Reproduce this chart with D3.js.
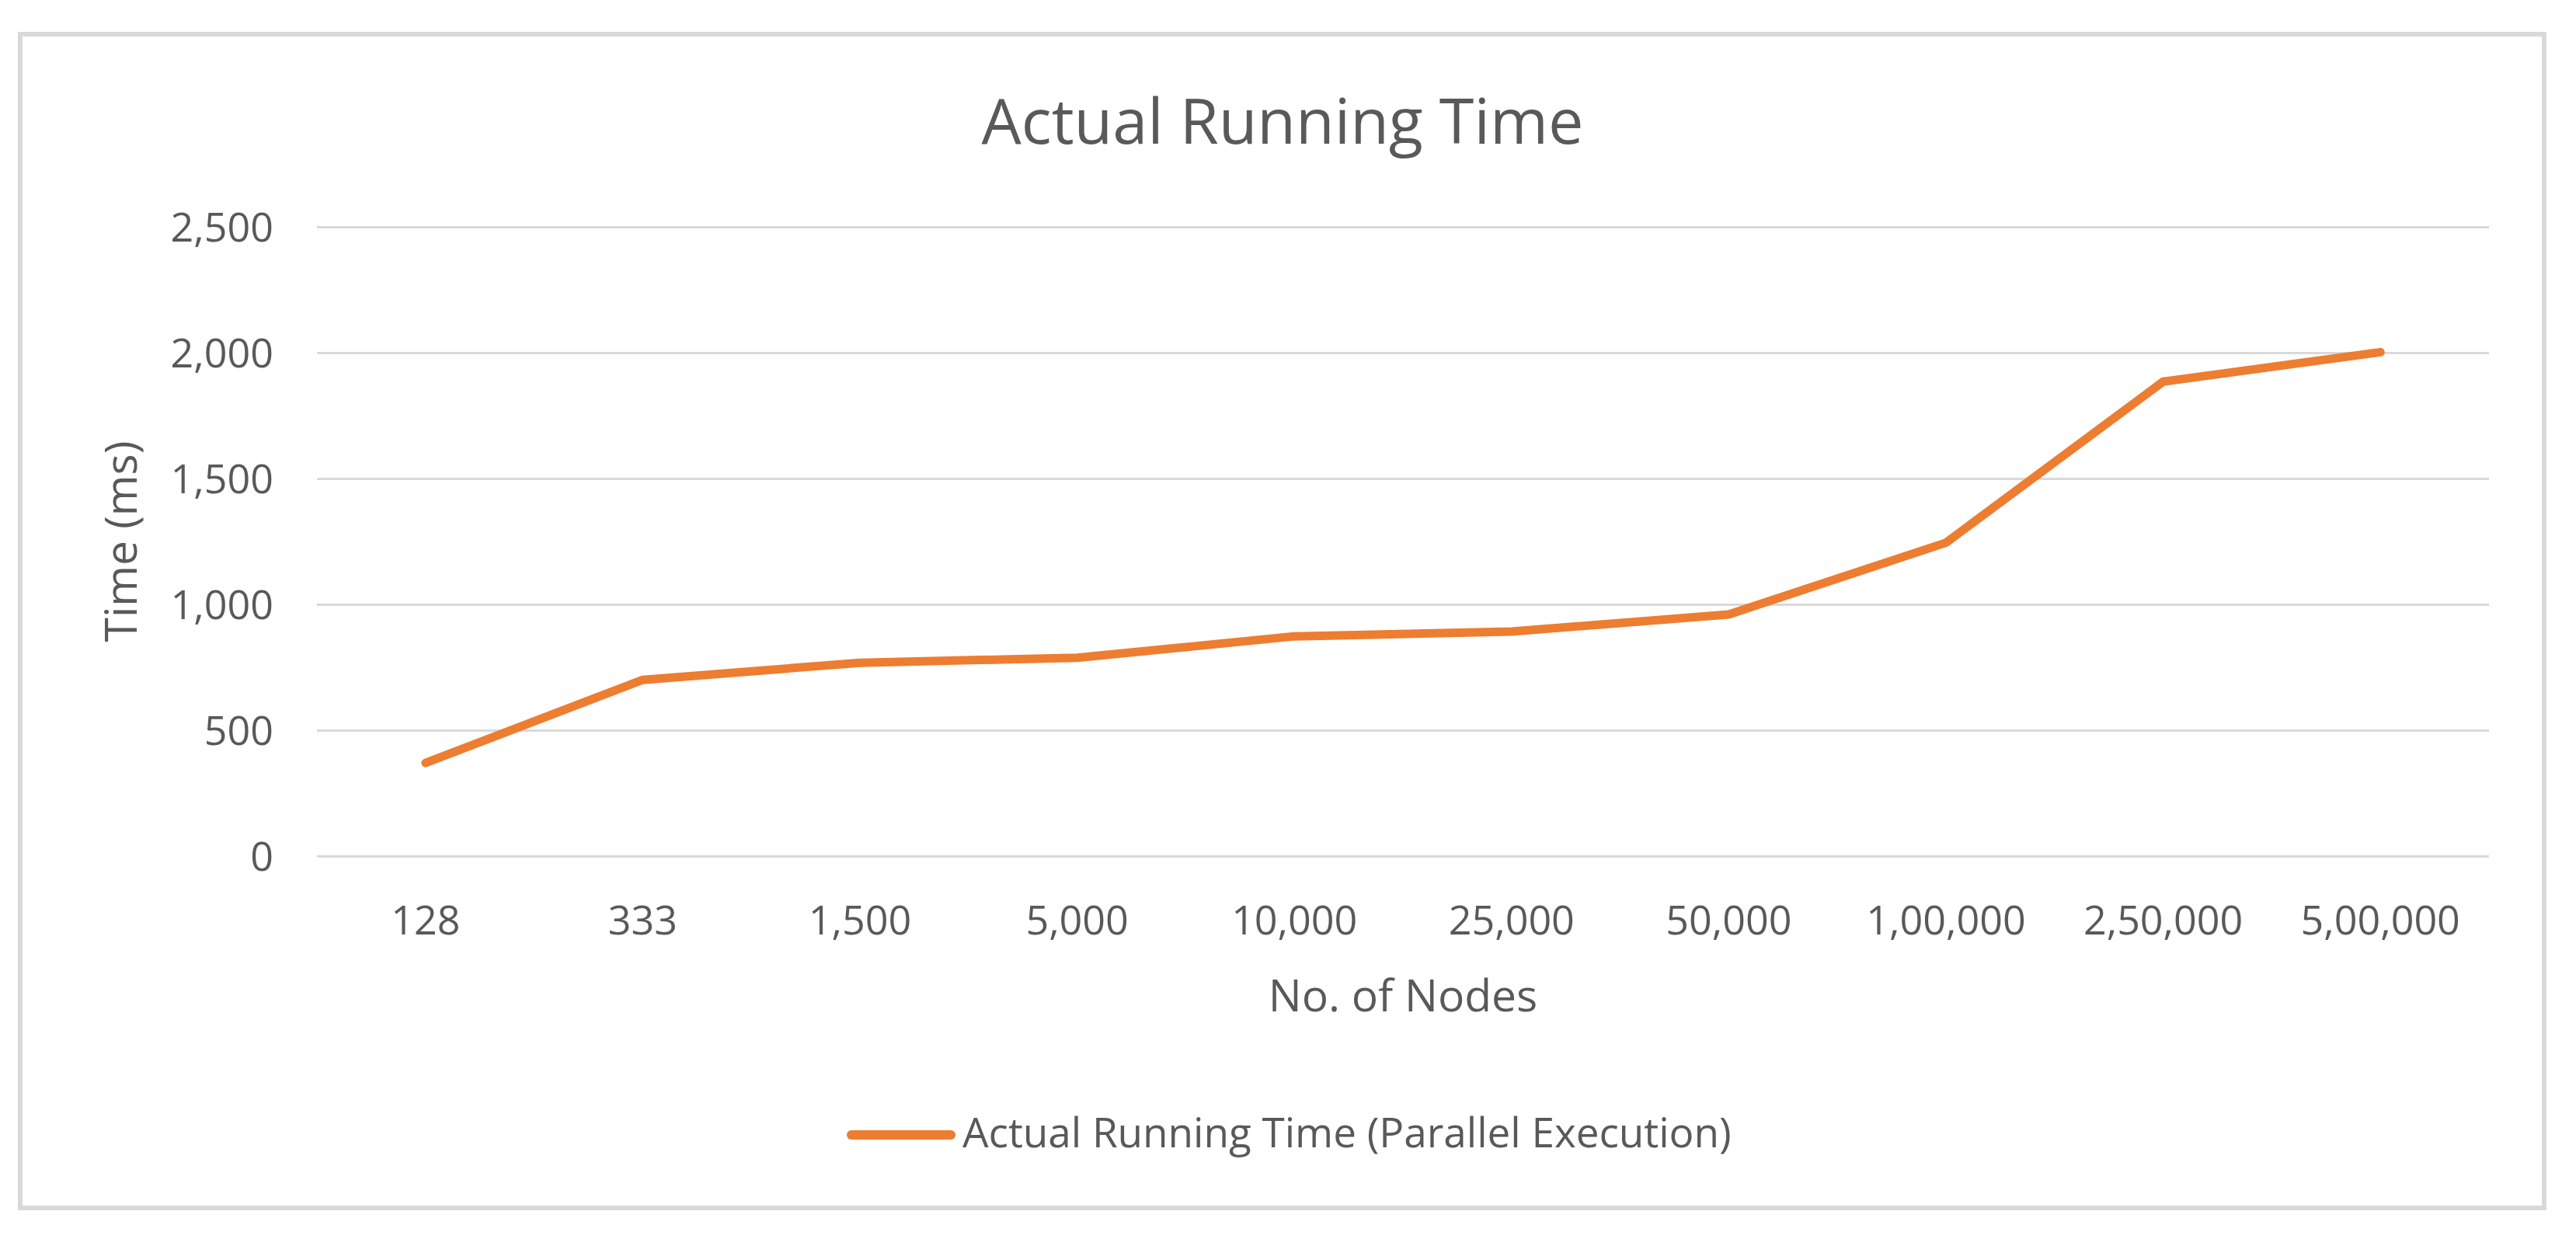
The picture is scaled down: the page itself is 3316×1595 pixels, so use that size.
<!DOCTYPE html>
<html><head><meta charset="utf-8">
<script src="https://cdn.jsdelivr.net/npm/d3@7"></script>
<style>
html,body{margin:0;padding:0;background:#fff;}
svg{display:block;}
text{font-family:"Open Sans",sans-serif;fill:#595959;}
</style></head>
<body>
<svg id="chart" width="3316" height="1595"></svg>
<script>
const categories = ["128","333","1,500","5,000","10,000","25,000","50,000","1,00,000","2,50,000","5,00,000"];
const times = [370, 700, 768, 788, 873, 892, 960, 1245, 1885, 2002];
const yTicks = [0, 500, 1000, 1500, 2000, 2500];
const seriesName = "Actual Running Time (Parallel Execution)";
const chartTitle = "Actual Running Time";
const xTitle = "No. of Nodes";
const yTitle = "Time (ms)";

const W = 3316, H = 1595;
const plot = {left: 408, right: 3204, top: 292, bottom: 1102};
const svg = d3.select("#chart");

svg.append("rect").attr("x", 0).attr("y", 0).attr("width", W).attr("height", H).attr("fill", "#fff");
svg.append("rect").attr("x", 26).attr("y", 44).attr("width", 3249).attr("height", 1511)
  .attr("fill", "#fff").attr("stroke", "#d9d9d9").attr("stroke-width", 6);

const x = d3.scaleBand().domain(categories).range([plot.left, plot.right]).padding(0);
const y = d3.scaleLinear().domain([0, 2500]).range([plot.bottom, plot.top]);

// gridlines + y tick labels
const yAxis = d3.axisLeft(y).tickValues(yTicks).tickFormat(d3.format(",")).tickSize(-(plot.right - plot.left)).tickPadding(56);
const gy = svg.append("g").attr("transform", `translate(${plot.left},0)`).call(yAxis);
gy.select(".domain").remove();
gy.selectAll(".tick line").attr("stroke", "#d9d9d9").attr("stroke-width", 3);
gy.selectAll(".tick text").attr("font-size", 52).attr("fill", "#595959").attr("dy", "0.36em")
  .style("font-family", '"Open Sans",sans-serif');

// x tick labels
const xAxis = d3.axisBottom(x).tickSize(0).tickPadding(0);
const gx = svg.append("g").attr("transform", `translate(0,${plot.bottom})`).call(xAxis);
gx.select(".domain").remove();
gx.selectAll(".tick text").attr("font-size", 52).attr("fill", "#595959").attr("y", 101).attr("dy", 0)
  .style("font-family", '"Open Sans",sans-serif');

// line
const line = d3.line().x((d, i) => x(categories[i]) + x.bandwidth() / 2).y(d => y(d));
svg.append("path").datum(times).attr("d", line).attr("fill", "none")
  .attr("stroke", "#ED7D31").attr("stroke-width", 11).attr("stroke-linejoin", "round").attr("stroke-linecap", "round");

// titles
svg.append("text").attr("x", 1651).attr("y", 185).attr("text-anchor", "middle").attr("font-size", 81).text(chartTitle);
svg.append("text").attr("x", (plot.left + plot.right) / 2).attr("y", 1302).attr("text-anchor", "middle").attr("font-size", 57).text(xTitle);
svg.append("text").attr("transform", `translate(176,${(plot.top + plot.bottom) / 2}) rotate(-90)`).attr("text-anchor", "middle").attr("font-size", 57).text(yTitle);

// legend
svg.append("line").attr("x1", 1096).attr("x2", 1224).attr("y1", 1461).attr("y2", 1461)
  .attr("stroke", "#ED7D31").attr("stroke-width", 12).attr("stroke-linecap", "round");
svg.append("text").attr("x", 1239).attr("y", 1477).attr("font-size", 53).text(seriesName);
</script>
</body></html>
